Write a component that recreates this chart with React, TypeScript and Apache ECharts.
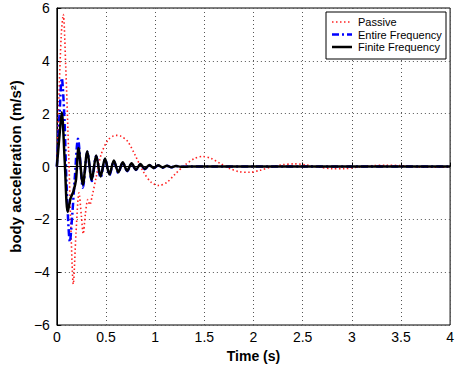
import React, { useEffect, useRef } from "react";
import * as echarts from "echarts";

const xTicks = [0, 0.5, 1, 1.5, 2, 2.5, 3, 3.5, 4];
const yTicks = [-6, -4, -2, 0, 2, 4, 6];

const seriesNames = ["Passive", "Entire Frequency", "Finite Frequency"];
const seriesColors = ["#ff2020", "#0000ff", "#000000"];
const seriesWidths = [1.6, 2.5, 2.5];
const seriesDashes: (number[] | null)[] = [[1.5, 2.5], [7, 3, 2, 3], null];

const tPassive = [0, 0.02, 0.045, 0.065, 0.09, 0.12, 0.145, 0.167, 0.195, 0.225, 0.25, 0.268, 0.29, 0.315, 0.335, 0.36, 0.4, 0.45, 0.52, 0.6, 0.65, 0.72, 0.8, 0.88, 0.96, 1.04, 1.12, 1.2, 1.3, 1.4, 1.48, 1.56, 1.66, 1.76, 1.86, 1.96, 2.06, 2.18, 2.3, 2.42, 2.54, 2.66, 2.8, 2.92, 3.05, 3.2, 3.35, 3.5, 3.65, 3.8, 4.0];
const vPassive = [0, 2.5, 5.0, 5.75, 3.8, 0.5, -2.6, -4.45, -2.5, -1.0, -1.9, -2.55, -1.8, -1.25, -1.45, -1.1, -0.4, 0.45, 1.0, 1.18, 1.15, 0.95, 0.4, -0.2, -0.6, -0.72, -0.6, -0.3, 0.05, 0.3, 0.38, 0.32, 0.12, -0.08, -0.2, -0.22, -0.15, -0.02, 0.07, 0.1, 0.06, -0.02, -0.08, -0.08, -0.03, 0.03, 0.05, 0.03, -0.01, -0.03, -0.02];

const tEntire = [0, 0.025, 0.05, 0.075, 0.1, 0.133, 0.157, 0.183, 0.215, 0.265, 0.31, 0.355, 0.4, 0.445, 0.49, 0.535, 0.58, 0.625, 0.67, 0.715, 0.76, 0.805, 0.85, 0.895, 0.94, 0.985, 1.03, 1.075, 1.12, 1.165, 1.21, 1.26, 1.35, 1.6, 2.0, 2.5, 3.0, 3.5, 4.0];
const vEntire = [0, 1.8, 3.35, 2.0, -0.8, -2.85, -1.8, -0.4, 1.05, -0.8, 0.55, -0.55, 0.4, -0.42, 0.28, -0.33, 0.2, -0.24, 0.15, -0.18, 0.1, -0.13, 0.08, -0.1, 0.05, -0.07, 0.04, -0.05, 0.03, -0.03, 0.02, -0.01, 0, 0, 0, 0, 0, 0, 0];

const tFinite = [0, 0.025, 0.05, 0.08, 0.11, 0.14, 0.17, 0.195, 0.22, 0.265, 0.31, 0.355, 0.4, 0.445, 0.49, 0.535, 0.58, 0.625, 0.67, 0.715, 0.76, 0.805, 0.85, 0.895, 0.94, 0.985, 1.03, 1.075, 1.12, 1.165, 1.21, 1.26, 1.35, 1.6, 2.0, 2.5, 3.0, 3.5, 4.0];
const vFinite = [0, 1.1, 2.05, 0.2, -1.72, -1.2, -0.92, -0.5, 0.7, -0.68, 0.58, -0.5, 0.42, -0.38, 0.3, -0.3, 0.23, -0.22, 0.16, -0.16, 0.12, -0.12, 0.09, -0.09, 0.06, -0.06, 0.05, -0.04, 0.03, -0.03, 0.02, -0.01, 0, 0, 0, 0, 0, 0, 0];

const FONT = "'Liberation Sans', Arial, Helvetica, sans-serif";

function pairs(t: number[], v: number[]) {
  return t.map((x, i) => [x, v[i]]);
}

function fmtNum(v: number) {
  return v < 0 ? "\u2212" + String(Math.abs(v)) : String(v);
}

export default function App() {
  const ref = useRef<HTMLDivElement>(null);
  useEffect(() => {
    if (!ref.current) return;
    const chart = echarts.init(ref.current, undefined, { renderer: "svg" });
    const gridLine = { show: true, lineStyle: { color: "#555", width: 1, type: [1, 3] as any } };

    const legendX = 326;
    const legendY = 12;
    const rowH = 12.5;
    const legendChildren: any[] = [
      {
        type: "rect",
        z: 100,
        shape: { x: legendX, y: legendY, width: 120, height: 47 },
        style: { fill: "#fff", stroke: "#000", lineWidth: 1 },
      },
    ];
    seriesNames.forEach((name, i) => {
      const cy = legendY + 10 + i * rowH;
      legendChildren.push({
        type: "line",
        z: 101,
        shape: { x1: legendX + 6, y1: cy, x2: legendX + 26, y2: cy },
        style: {
          stroke: seriesColors[i],
          lineWidth: seriesWidths[i],
          lineDash: seriesDashes[i] || undefined,
        },
      });
      legendChildren.push({
        type: "text",
        z: 101,
        x: legendX + 32,
        y: cy,
        style: {
          text: name,
          fill: "#000",
          fontFamily: FONT,
          fontSize: 11,
          verticalAlign: "middle",
          align: "left",
        },
      });
    });

    chart.setOption({
      animation: false,
      backgroundColor: "#fff",
      grid: { left: 55, right: 2, top: 8, bottom: 48, show: true, borderColor: "#000", borderWidth: 1, backgroundColor: "transparent" },
      graphic: legendChildren,
      xAxis: {
        type: "value",
        min: 0,
        max: 4,
        interval: 0.5,
        name: "Time (s)",
        nameLocation: "middle",
        nameGap: 19,
        nameTextStyle: { fontFamily: FONT, fontSize: 14, fontWeight: "bold", color: "#000" },
        axisLine: { show: true, lineStyle: { color: "#000", width: 1 } },
        axisTick: { show: true, inside: true, length: 4, lineStyle: { color: "#000" } },
        axisLabel: {
          fontFamily: FONT,
          fontSize: 14,
          color: "#000",
          margin: 5,
          formatter: (v: number) => (xTicks.indexOf(v) >= 0 ? fmtNum(v) : ""),
        },
        splitLine: gridLine,
      },
      yAxis: {
        type: "value",
        min: -6,
        max: 6,
        interval: 2,
        name: "body acceleration (m/s\u00B2)",
        nameLocation: "middle",
        nameGap: 28,
        nameTextStyle: { fontFamily: FONT, fontSize: 15, fontWeight: "bold", color: "#000" },
        axisLine: { show: true, lineStyle: { color: "#000", width: 1 } },
        axisTick: { show: true, inside: true, length: 4, lineStyle: { color: "#000" } },
        axisLabel: {
          fontFamily: FONT,
          fontSize: 14,
          color: "#000",
          margin: 7,
          formatter: (v: number) => (yTicks.indexOf(v) >= 0 ? fmtNum(v) : ""),
        },
        splitLine: gridLine,
      },
      series: [
        {
          name: seriesNames[0],
          type: "line",
          data: pairs(tPassive, vPassive),
          symbol: "none",
          smooth: 0.3,
          lineStyle: { color: seriesColors[0], width: seriesWidths[0], type: seriesDashes[0] },
          z: 2,
        },
        {
          name: seriesNames[1],
          type: "line",
          data: pairs(tEntire, vEntire),
          symbol: "none",
          smooth: 0.3,
          lineStyle: { color: seriesColors[1], width: seriesWidths[1], type: seriesDashes[1] },
          z: 3,
        },
        {
          name: seriesNames[2],
          type: "line",
          data: pairs(tFinite, vFinite),
          symbol: "none",
          smooth: 0.3,
          lineStyle: { color: seriesColors[2], width: seriesWidths[2], type: "solid" },
          z: 4,
        },
      ],
    });
    return () => chart.dispose();
  }, []);
  return <div ref={ref} style={{ position: "fixed", left: 0, top: 0, width: 457, height: 373 }} />;
}
